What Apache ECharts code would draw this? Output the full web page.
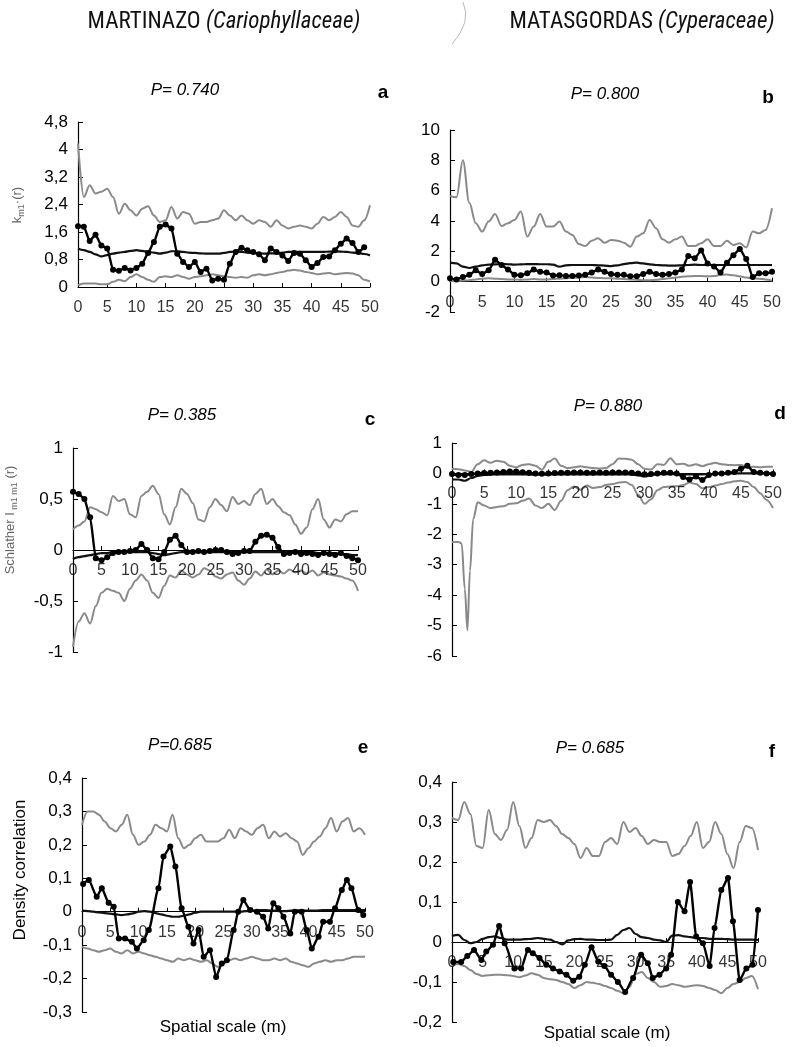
<!DOCTYPE html>
<html><head><meta charset="utf-8">
<script src="https://cdn.jsdelivr.net/npm/echarts@6/dist/echarts.min.js"></script>
<style>html,body{margin:0;padding:0;background:#fff}#c{width:796px;height:1047px}</style>
</head><body><div id="c"></div><script>
// ---------- DATA ----------
const X = [0,1,2,3,4,5,6,7,8,9,10,11,12,13,14,15,16,17,18,19,20,21,22,23,24,25,26,27,28,29,30,31,32,33,34,35,36,37,38,39,40,41,42,43,44,45,46,47,48,49,50];
const xTicks = [0,5,10,15,20,25,30,35,40,45,50];

// Panel a – Martinazo, K function
const aUpper = [4.17,2.62,2.96,2.72,2.77,2.86,2.62,2.13,2.42,2.23,2.08,2.28,2.35,2.08,1.89,1.94,2.33,1.99,2.18,2.13,1.84,1.89,1.89,1.94,1.99,2.23,2.08,1.94,2.08,1.94,1.84,1.94,1.89,1.75,1.94,1.79,1.70,1.75,1.79,1.75,1.70,1.84,2.04,1.94,2.04,2.18,2.04,1.79,1.75,1.94,2.38];
const aLower = [0.05,0.10,0.10,0.10,0.08,0.08,0.15,0.21,0.17,0.29,0.37,0.29,0.21,0.15,0.29,0.31,0.29,0.34,0.29,0.24,0.29,0.31,0.34,0.37,0.34,0.31,0.29,0.27,0.29,0.27,0.34,0.37,0.34,0.37,0.41,0.44,0.48,0.50,0.48,0.44,0.41,0.37,0.39,0.41,0.37,0.39,0.41,0.39,0.34,0.21,0.16];
const aTheory = [1.12,1.07,1.02,0.95,0.89,0.93,0.97,1.0,1.02,1.05,1.07,1.05,1.02,1.0,0.97,1.0,1.04,1.04,1.02,1.0,0.99,0.98,0.97,0.97,0.97,0.99,1.02,1.03,1.02,1.0,0.99,0.98,0.97,0.98,0.98,1.0,1.02,1.02,1.02,1.02,1.02,1.02,1.02,1.03,1.04,1.03,1.02,1.0,0.99,0.96,0.92];
const aObsX = [0,1,2,3,4,5,6,7,8,9,10,11,12,13,14,15,16,17,18,19,20,21,22,23,24,25,26,27,28,29,30,31,32,33,34,35,36,37,38,39,40,41,42,43,44,45,46,47,48,49];
const aObs = [1.77,1.75,1.34,1.52,1.21,1.12,0.50,0.47,0.55,0.48,0.55,0.68,0.99,1.31,1.75,1.82,1.70,0.97,0.73,0.58,0.73,0.44,0.53,0.19,0.24,0.21,0.68,1.02,1.14,1.07,1.02,0.95,0.78,1.12,1.02,0.92,0.76,0.99,0.97,0.78,0.58,0.70,0.87,0.89,1.07,1.26,1.41,1.28,1.02,1.16];

// Panel b – Matasgordas, K function
const bUpper = [5.65,5.56,8.0,5.2,3.85,3.3,3.96,4.46,3.67,3.85,4.07,4.62,2.97,3.63,4.46,3.63,3.63,3.96,3.3,3.08,2.48,2.35,2.7,2.86,2.57,2.75,2.7,2.57,2.31,2.97,3.19,4.07,3.52,2.79,2.57,2.79,2.97,2.35,2.35,2.53,2.79,2.35,2.35,2.7,2.42,2.53,2.26,3.3,3.19,3.41,4.84];
const bLower = [0.05,0.05,0.07,0.1,0.15,0.2,0.22,0.2,0.17,0.15,0.15,0.12,0.15,0.17,0.15,0.15,0.17,0.2,0.22,0.25,0.27,0.3,0.27,0.25,0.22,0.22,0.2,0.17,0.15,0.12,0.1,0.1,0.12,0.17,0.22,0.27,0.32,0.35,0.37,0.37,0.35,0.37,0.45,0.47,0.42,0.35,0.27,0.22,0.2,0.15,0.07];
const bTheory = [1.25,1.21,0.99,0.9,0.99,1.08,1.12,1.14,1.16,1.15,1.12,1.14,1.16,1.16,1.15,1.15,1.12,0.99,1.08,1.1,1.1,1.1,1.1,1.08,1.06,1.03,1.08,1.16,1.22,1.25,1.2,1.14,1.1,1.08,1.06,1.06,1.08,1.1,1.12,1.1,1.1,1.1,1.1,1.1,1.1,1.1,1.1,1.1,1.1,1.1,1.1];
const bObs = [0.22,0.15,0.3,0.45,0.75,0.5,0.75,1.45,1.1,0.8,0.45,0.42,0.55,0.8,0.65,0.6,0.4,0.42,0.38,0.38,0.4,0.45,0.6,0.8,0.65,0.5,0.45,0.45,0.35,0.35,0.5,0.65,0.5,0.45,0.5,0.6,0.8,1.7,1.55,2.05,1.2,1.0,0.6,1.25,1.75,2.15,1.5,0.3,0.55,0.55,0.65];

// Panel c – Martinazo, Schlather I
const cUpper = [0.2,0.24,0.28,0.42,0.4,0.37,0.34,0.53,0.48,0.5,0.35,0.32,0.53,0.57,0.63,0.55,0.35,0.25,0.42,0.6,0.55,0.46,0.3,0.28,0.42,0.5,0.44,0.38,0.52,0.45,0.48,0.44,0.55,0.6,0.45,0.5,0.43,0.37,0.34,0.25,0.16,0.22,0.4,0.5,0.3,0.22,0.3,0.28,0.35,0.38,0.38];
const cLower = [-0.95,-0.7,-0.62,-0.72,-0.55,-0.42,-0.38,-0.4,-0.42,-0.5,-0.38,-0.3,-0.24,-0.3,-0.42,-0.47,-0.35,-0.25,-0.27,-0.2,-0.24,-0.27,-0.24,-0.18,-0.2,-0.26,-0.28,-0.24,-0.22,-0.3,-0.34,-0.28,-0.21,-0.25,-0.19,-0.24,-0.2,-0.23,-0.19,-0.22,-0.2,-0.23,-0.2,-0.25,-0.22,-0.24,-0.25,-0.26,-0.28,-0.3,-0.4];
const cTheory = [-0.09,-0.07,-0.06,-0.05,-0.04,-0.03,-0.03,-0.02,-0.02,-0.02,-0.02,-0.02,-0.02,-0.02,-0.03,-0.04,-0.05,-0.04,-0.03,-0.02,-0.02,-0.02,-0.02,-0.02,-0.02,-0.02,-0.02,-0.02,-0.02,-0.02,-0.02,-0.02,-0.02,-0.02,-0.02,-0.02,-0.02,-0.02,-0.02,-0.02,-0.02,-0.02,-0.02,-0.03,-0.03,-0.03,-0.03,-0.04,-0.04,-0.05,-0.05];
const cObs = [0.57,0.55,0.5,0.32,-0.08,-0.1,-0.07,-0.03,-0.02,-0.02,-0.01,0.0,0.06,0.0,-0.08,-0.09,-0.02,0.1,0.14,0.05,-0.02,-0.02,-0.01,-0.02,-0.01,0.0,0.0,-0.02,-0.04,-0.03,-0.01,-0.01,0.08,0.14,0.15,0.12,0.03,-0.04,-0.03,-0.02,-0.04,-0.03,-0.04,-0.05,-0.03,-0.04,-0.05,-0.03,-0.06,-0.08,-0.1];

// Panel d – Matasgordas, Schlather I
const dUpper = [0.15,0.14,0.1,0.05,0.3,0.43,0.35,0.42,0.38,0.25,0.2,0.28,0.3,0.25,0.12,0.38,0.49,0.25,0.18,0.2,0.24,0.2,0.18,0.16,0.18,0.3,0.49,0.48,0.45,0.3,0.15,0.13,0.3,0.28,0.5,0.3,0.32,0.25,0.3,0.24,0.3,0.35,0.3,0.28,0.27,0.28,0.2,0.22,0.2,0.22,0.22];
const dLowerX = [0,1,1.5,2,2.4,2.8,3.3,4,5,6,7,8,9,10,11,12,13,14,15,16,17,18,19,20,21,22,23,24,25,26,27,28,29,30,31,32,33,34,35,36,37,38,39,40,41,42,43,44,45,46,47,48,49,50];
const dLower = [-2.25,-2.25,-2.3,-3.8,-5.15,-3.2,-1.5,-0.95,-1.05,-1.14,-1.1,-1.08,-1.0,-0.98,-0.9,-0.82,-1.05,-1.14,-1.0,-1.2,-0.9,-0.55,-0.43,-0.54,-0.4,-0.48,-0.45,-0.38,-0.35,-0.3,-0.28,-0.38,-0.7,-1.0,-0.85,-0.55,-0.45,-0.43,-0.42,-0.38,-0.3,-0.35,-0.49,-0.45,-0.4,-0.35,-0.3,-0.26,-0.24,-0.28,-0.45,-0.65,-0.87,-1.14];
const dTheory = [-0.2,-0.2,-0.24,-0.15,-0.08,-0.05,-0.04,-0.03,-0.03,-0.03,-0.03,-0.03,-0.04,-0.04,-0.04,-0.04,-0.03,-0.03,-0.03,-0.03,-0.03,-0.03,-0.03,-0.03,-0.03,-0.03,-0.03,-0.03,-0.04,-0.06,-0.1,-0.06,-0.03,-0.02,-0.02,-0.02,-0.03,-0.03,-0.03,-0.03,-0.02,-0.02,-0.01,0,0,0,0,0,0,0,0];
const dObs = [-0.02,-0.05,-0.05,-0.02,0,0.01,0.02,0.03,0.05,0.06,0.06,0.04,0.02,0.0,-0.01,0.0,0.01,0.02,0.02,0.03,0.03,0.02,0.02,0.03,0.02,0.03,0.03,0.03,0.02,0.0,-0.03,-0.02,0.0,0.02,0.02,0.0,-0.12,-0.2,-0.1,-0.22,-0.05,0.0,0.0,0.02,0.05,0.15,0.25,0.05,0.02,0.0,-0.02];

// Panel e – Martinazo, density correlation
const eUpper = [0.26,0.3,0.3,0.29,0.27,0.25,0.24,0.26,0.29,0.23,0.2,0.21,0.23,0.26,0.25,0.24,0.29,0.22,0.19,0.2,0.22,0.23,0.21,0.21,0.21,0.22,0.245,0.22,0.25,0.24,0.23,0.25,0.26,0.22,0.24,0.225,0.235,0.22,0.21,0.17,0.19,0.21,0.225,0.25,0.28,0.24,0.27,0.28,0.24,0.25,0.23];
const eLower = [-0.105,-0.11,-0.115,-0.12,-0.115,-0.11,-0.12,-0.125,-0.115,-0.125,-0.12,-0.125,-0.13,-0.135,-0.14,-0.145,-0.15,-0.14,-0.145,-0.14,-0.145,-0.15,-0.145,-0.155,-0.165,-0.155,-0.145,-0.14,-0.145,-0.14,-0.135,-0.14,-0.145,-0.145,-0.14,-0.145,-0.14,-0.15,-0.155,-0.16,-0.165,-0.155,-0.15,-0.145,-0.15,-0.145,-0.145,-0.14,-0.135,-0.135,-0.135];
const eTheory = [0.003,0.002,0,-0.002,-0.004,-0.006,-0.008,-0.01,-0.008,-0.005,0,0.002,0,-0.004,-0.008,-0.012,-0.015,-0.015,-0.012,-0.008,-0.003,0,0,0,0,0,0,0,0,0.002,0.003,0.004,0.005,0.004,0.003,0.002,0.002,0.003,0.004,0.004,0.003,0.003,0.004,0.005,0.005,0.005,0.005,0.005,0.005,0.005,0.005];
const eObsX = [0.2,1.2,2.6,3.5,4.7,5.6,6.5,7.6,8.8,9.7,10.9,11.8,13.5,14.4,15.6,16.5,17.6,18.8,19.7,20.6,21.5,22.6,23.7,24.7,25.6,26.8,27.6,28.5,29.7,30.9,32,32.9,33.8,34.7,35.6,36.8,37.6,38.8,39.7,40.6,41.8,42.6,43.8,44.7,45.9,46.8,47.6,48.8,49.7];
const eObs = [0.083,0.095,0.045,0.07,0.027,0.015,-0.08,-0.08,-0.09,-0.11,-0.085,-0.055,0.07,0.165,0.195,0.135,0.01,-0.045,-0.095,-0.055,-0.135,-0.115,-0.195,-0.155,-0.145,-0.055,0,0.035,0.005,0,-0.015,-0.05,0.025,0.01,-0.015,-0.065,0,0,-0.055,-0.11,-0.075,-0.03,-0.03,0.01,0.065,0.095,0.07,0.005,-0.01];

// Panel f – Matasgordas, density correlation
const fUpper = [0.31,0.305,0.35,0.32,0.24,0.235,0.33,0.27,0.255,0.28,0.35,0.29,0.235,0.26,0.305,0.3,0.305,0.29,0.27,0.26,0.245,0.21,0.235,0.215,0.215,0.25,0.26,0.245,0.3,0.275,0.285,0.265,0.245,0.255,0.25,0.25,0.215,0.22,0.24,0.265,0.3,0.235,0.25,0.3,0.27,0.22,0.185,0.25,0.29,0.285,0.23];
const fLower = [-0.06,-0.055,-0.06,-0.07,-0.08,-0.085,-0.083,-0.082,-0.082,-0.083,-0.085,-0.088,-0.084,-0.078,-0.082,-0.09,-0.093,-0.095,-0.1,-0.105,-0.115,-0.108,-0.1,-0.102,-0.105,-0.11,-0.115,-0.122,-0.128,-0.112,-0.08,-0.075,-0.09,-0.1,-0.112,-0.11,-0.105,-0.108,-0.112,-0.11,-0.108,-0.11,-0.115,-0.12,-0.128,-0.115,-0.105,-0.1,-0.09,-0.085,-0.118];
const fTheory = [0.015,0.018,0.005,-0.003,0.0,0.008,0.012,0.014,0.01,0.006,0.006,0.006,0.007,0.008,0.01,0.008,0.006,0.0,-0.006,0.004,0.007,0.008,0.006,0.006,0.005,0.005,0.006,0.018,0.03,0.035,0.02,0.012,0.01,0.006,0.004,0.0,0.016,0.017,0.014,0.012,0.01,0.01,0.008,0.008,0.008,0.007,0.006,0.006,0.006,0.006,0.005];
const fObsX = [0.2,1.5,2.5,3.6,4.8,5.6,6.7,7.7,8.6,10.2,11.3,12.4,13.2,14.3,15.4,16.5,17.6,18.7,19.8,20.8,21.7,22.8,23.9,24.9,26,27.1,28.3,29.6,30.9,32,32.8,33.9,35,35.8,36.9,38,38.9,39.9,41,42.1,42.9,44,45.1,45.9,47,48.1,49.1,50];
const fObs = [-0.05,-0.05,-0.035,-0.02,-0.045,-0.024,-0.007,0.04,-0.003,-0.066,-0.066,-0.02,-0.028,-0.04,-0.057,-0.066,-0.074,-0.082,-0.097,-0.087,-0.057,-0.013,-0.049,-0.06,-0.082,-0.1,-0.125,-0.09,-0.032,-0.053,-0.09,-0.082,-0.066,-0.032,0.1,0.077,0.15,0.014,-0.003,-0.06,0.035,0.13,0.16,0.052,-0.095,-0.066,-0.057,0.08];

// ---------- CHART ----------
const pair = (xs, ys) => ys.map((y, i) => [xs[i], y]);
const GRAY = '#8a8a8a';
const panels = [
  {grid:{left:78, top:122, width:292, height:165}, y:{min:0, max:4.8, interval:0.8},
   up:pair(X,aUpper), lo:pair(X,aLower), th:pair(X,aTheory), ob:pair(aObsX,aObs)},
  {grid:{left:450, top:130, width:322, height:182}, y:{min:-2, max:10, interval:2},
   up:pair(X,bUpper), lo:pair(X,bLower), th:pair(X,bTheory), ob:pair(X,bObs)},
  {grid:{left:73, top:448, width:285, height:204}, y:{min:-1, max:1, interval:0.5},
   up:pair(X,cUpper), lo:pair(X,cLower), th:pair(X,cTheory), ob:pair(X,cObs)},
  {grid:{left:452, top:443, width:321, height:213}, y:{min:-6, max:1, interval:1},
   up:pair(X,dUpper), lo:pair(dLowerX,dLower), th:pair(X,dTheory), ob:pair(X,dObs)},
  {grid:{left:82, top:778, width:283, height:234}, y:{min:-0.3, max:0.4, interval:0.1},
   up:pair(X,eUpper), lo:pair(X,eLower), th:pair(X,eTheory), ob:pair(eObsX,eObs)},
  {grid:{left:452, top:782, width:306, height:240}, y:{min:-0.2, max:0.4, interval:0.1},
   up:pair(X,fUpper), lo:pair(X,fLower), th:pair(X,fTheory), ob:pair(fObsX,fObs)}
];
const fmt = v => { const r = Math.round(v * 100) / 100; return String(r).replace('.', ','); };
const FONT = "'Liberation Sans', Arial, sans-serif";
const grids = [], xAxes = [], yAxes = [], series = [];
panels.forEach((p, i) => {
  grids.push(Object.assign({containLabel:false}, p.grid));
  xAxes.push({type:'value', gridIndex:i, min:0, max:50, interval:5,
    axisLine:{onZero:true, lineStyle:{color:'#000', width:1.2}},
    axisTick:{show:true, inside:true, length:4, lineStyle:{color:'#000'}},
    axisLabel:{show:false},
    splitLine:{show:false}});
  yAxes.push({type:'value', gridIndex:i, min:p.y.min, max:p.y.max, interval:p.y.interval,
    axisLine:{show:true, onZero:false, lineStyle:{color:'#000', width:1.2}},
    axisTick:{show:true, inside:true, length:5, lineStyle:{color:'#000'}},
    axisLabel:{color:'#000', fontSize:17, fontFamily:FONT, margin:10, formatter:fmt},
    splitLine:{show:false}});
  const common = {xAxisIndex:i, yAxisIndex:i, type:'line', animation:false, smoothMonotone:'x'};
  series.push(Object.assign({}, common, {data:p.up, smooth:0.35, showSymbol:false, lineStyle:{color:GRAY, width:2}, z:2}));
  series.push(Object.assign({}, common, {data:p.lo, smooth:0.35, showSymbol:false, lineStyle:{color:GRAY, width:2}, z:2}));
  series.push(Object.assign({}, common, {data:p.th, smooth:0.4, showSymbol:false, lineStyle:{color:'#111', width:2.2}, z:3}));
  series.push(Object.assign({}, common, {data:p.ob, smooth:0.2, symbol:'circle', symbolSize:6, showSymbol:true,
    itemStyle:{color:'#000'}, lineStyle:{color:'#000', width:2.4}, z:4}));
  // x tick labels that sit on the y = 0 line, as in the original figure
  series.push({type:'scatter', xAxisIndex:i, yAxisIndex:i, silent:true, animation:false, z:5,
    data: xTicks.map(t => [t, 0]), symbol:'circle', symbolSize:1, itemStyle:{color:'rgba(0,0,0,0)'},
    label:{show:true, position:'bottom', distance:12, color:'#000', fontSize:16, fontFamily:FONT,
      formatter: q => String(q.value[0])}});
});

const txt = (x, y, text, style, extra) => Object.assign({type:'text', x, y, style:Object.assign({text, fontFamily:FONT, fill:'#000', align:'center', verticalAlign:'middle'}, style)}, extra || {});
const NARROW = "'Liberation Sans Narrow', 'Roboto Condensed', 'DejaVu Sans Condensed', 'Liberation Sans', sans-serif";
const head = {n:{fontSize:23, fontFamily:NARROW, fill:'#111'}, i:{fontSize:23, fontStyle:'italic', fontFamily:NARROW, fill:'#111'}};
const graphic = [
  txt(224, 22, '{n|MARTINAZO }{i|(Cariophyllaceae)}', {rich:head}),
  txt(642, 22, '{n|MATASGORDAS }{i|(Cyperaceae)}', {rich:head}),
  {type:'bezierCurve', shape:{x1:463, y1:2, x2:452, y2:44, cpx1:472, cpy1:22}, style:{stroke:'#bbb', lineWidth:1, fill:null}},
  txt(185, 90, 'P= 0.740', {fontSize:17, fontStyle:'italic'}),
  txt(383, 93, 'a', {fontSize:19, fontWeight:'bold'}),
  txt(605, 94, 'P= 0.800', {fontSize:17, fontStyle:'italic'}),
  txt(768, 98, 'b', {fontSize:19, fontWeight:'bold'}),
  txt(182, 415, 'P= 0.385', {fontSize:17, fontStyle:'italic'}),
  txt(370, 420, 'c', {fontSize:19, fontWeight:'bold'}),
  txt(608, 406, 'P= 0.880', {fontSize:17, fontStyle:'italic'}),
  txt(780, 414, 'd', {fontSize:19, fontWeight:'bold'}),
  txt(180, 745, 'P=0.685', {fontSize:17, fontStyle:'italic'}),
  txt(363, 748, 'e', {fontSize:19, fontWeight:'bold'}),
  txt(590, 748, 'P= 0.685', {fontSize:17, fontStyle:'italic'}),
  txt(772, 752, 'f', {fontSize:19, fontWeight:'bold'}),
  txt(17, 205, '{n|k}{s|m1}{n|·(r)}', {rich:{n:{fontSize:13, fill:'#666', lineHeight:18, verticalAlign:'middle'}, s:{fontSize:9, fill:'#666', lineHeight:18, verticalAlign:'bottom'}}}, {rotation:Math.PI/2}),
  txt(10, 520, '{n|Schlather I}{s| m1 m1}{n| (r)}', {rich:{n:{fontSize:13, fill:'#666', lineHeight:18, verticalAlign:'middle'}, s:{fontSize:9, fill:'#666', lineHeight:18, verticalAlign:'bottom'}}}, {rotation:Math.PI/2}),
  txt(20, 870, 'Density correlation', {fontSize:17}, {rotation:Math.PI/2}),
  txt(223, 1027, 'Spatial scale (m)', {fontSize:17}),
  txt(607, 1033, 'Spatial scale (m)', {fontSize:17})
];

const chart = echarts.init(document.getElementById('c'), null, {renderer:'canvas'});
chart.setOption({animation:false, backgroundColor:'#fff', grid:grids, xAxis:xAxes, yAxis:yAxes, series, graphic});
</script></body></html>
